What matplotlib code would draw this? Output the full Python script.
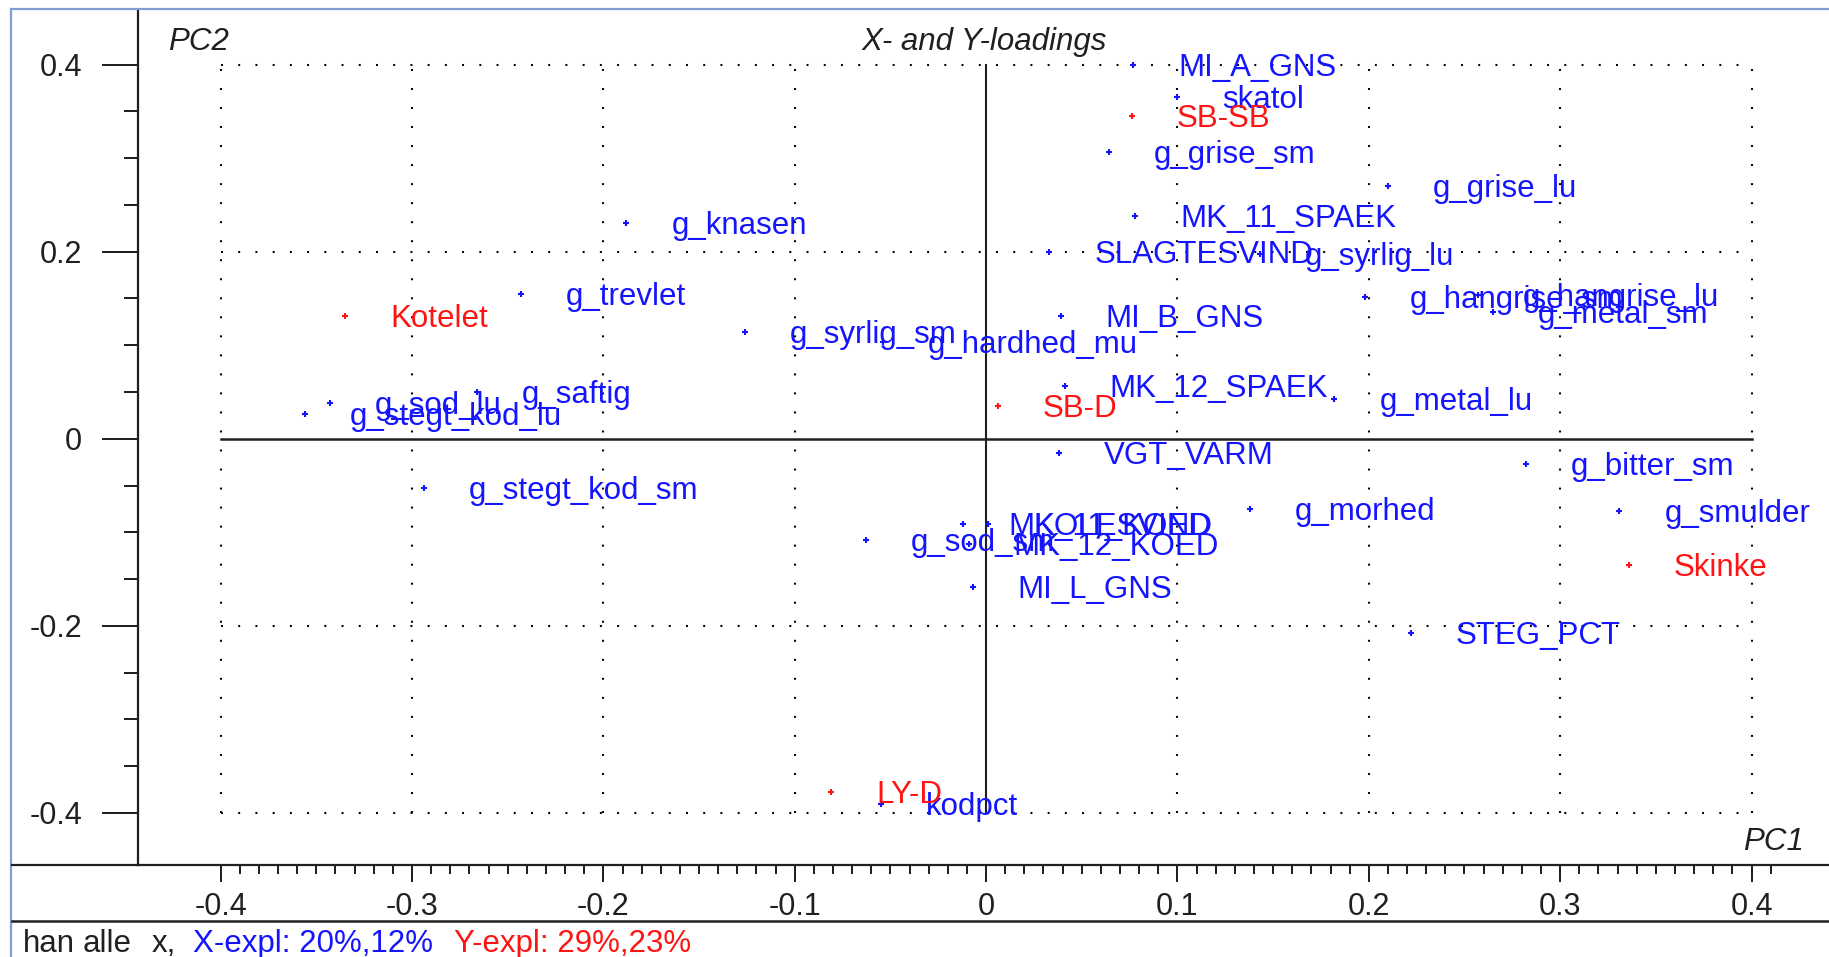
import numpy as np
import matplotlib
matplotlib.use("Agg")
import matplotlib.pyplot as plt
from matplotlib.lines import Line2D

plt.rcParams['font.family'] = ['Liberation Sans', 'DejaVu Sans']
plt.rcParams['axes.unicode_minus'] = False
plt.rcParams['lines.scale_dashes'] = False

# ---------------- data ----------------
x_names = ["MI_A_GNS", "skatol", "g_grise_sm", "g_grise_lu", "MK_11_SPAEK",
           "SLAGTESVIND", "g_syrlig_lu", "g_hangrise_sm", "g_hangrise_lu",
           "g_metal_sm", "MI_B_GNS", "g_hardhed_mu", "g_syrlig_sm", "g_knasen",
           "g_trevlet", "g_sod_lu", "g_stegt_kod_lu", "g_saftig",
           "g_stegt_kod_sm", "VGT_VARM", "MK_12_SPAEK", "g_metal_lu",
           "g_bitter_sm", "g_smulder", "g_morhed", "STEG_PCT", "MI_L_GNS",
           "g_sod_sm", "MK_11_KOED", "KOLESVIND", "MK_12_KOED", "kodpct"]
x_pc1 = [0.077, 0.100, 0.064, 0.210, 0.078,
         0.033, 0.143, 0.198, 0.257,
         0.265, 0.039, -0.054, -0.126, -0.188,
         -0.243, -0.343, -0.356, -0.266,
         -0.294, 0.038, 0.041, 0.182,
         0.282, 0.331, 0.138, 0.222, -0.007,
         -0.063, -0.012, 0.001, -0.009, -0.055]
x_pc2 = [0.400, 0.365, 0.307, 0.270, 0.238,
         0.200, 0.197, 0.151, 0.154,
         0.135, 0.131, 0.103, 0.114, 0.231,
         0.155, 0.038, 0.026, 0.050,
         -0.053, -0.015, 0.056, 0.042,
         -0.027, -0.077, -0.075, -0.208, -0.158,
         -0.108, -0.091, -0.091, -0.112, -0.390]

y_names = ["Kotelet", "SB-SB", "SB-D", "Skinke", "LY-D"]
y_pc1 = [-0.335, 0.076, 0.006, 0.336, -0.081]
y_pc2 = [0.131, 0.345, 0.035, -0.135, -0.378]

x_ticks = [-0.4, -0.3, -0.2, -0.1, 0.0, 0.1, 0.2, 0.3, 0.4]
y_ticks = [-0.4, -0.2, 0.0, 0.2, 0.4]
status_parts = ["han", "alle", "x,", "X-expl: 20%,12%", "Y-expl: 29%,23%"]

# ---------------- figure ----------------
W, H = 1829, 957
fig = plt.figure(figsize=(W / 100, H / 100), dpi=100)

def fx(px):
    return px / W

def fy(py):
    return 1 - py / H

ax_l, ax_r, ax_t, ax_b = 138, 1829, 10, 865
ax = fig.add_axes([fx(ax_l), fy(ax_b), fx(ax_r - ax_l), (ax_b - ax_t) / H])
ax.set_xlim(-0.4432, 0.4405)
ax.set_ylim(-0.4556, 0.4583)
ax.patch.set_alpha(0)

BLUE = "#1414ff"
RED = "#ff1414"
DARK = "#202020"

for s in ["top", "right"]:
    ax.spines[s].set_visible(False)
for s in ["left", "bottom"]:
    ax.spines[s].set_linewidth(1.6)
    ax.spines[s].set_color(DARK)

# grid (dotted)
for gx in x_ticks:
    if gx == 0:
        continue
    ax.plot([gx, gx], [-0.4, 0.4], color="black", lw=1.5,
            dashes=(1.4, 12.3), zorder=1)
for gy in y_ticks:
    if gy == 0:
        continue
    ax.plot([-0.4, 0.4], [gy, gy], color="black", lw=1.5,
            dashes=(1.4, 11.0), zorder=1)
# zero lines
ax.plot([-0.4, 0.4], [0, 0], color=DARK, lw=1.8, zorder=2)
ax.plot([0, 0], [-0.4, 0.4], color=DARK, lw=1.5, zorder=2)

# ticks
ax.set_xticks(x_ticks)
ax.set_xticklabels(["%g" % v for v in x_ticks])
ax.set_yticks(y_ticks)
ax.set_yticklabels(["%g" % v for v in y_ticks])
ax.set_xticks(np.round(np.arange(-0.40, 0.4101, 0.01), 3), minor=True)
ax.set_yticks(np.round(np.arange(-0.40, 0.401, 0.05), 3), minor=True)
ax.tick_params(axis="x", which="major", direction="out", length=12.2,
               width=1.44, pad=7, labelsize=22, colors=DARK)
ax.tick_params(axis="x", which="minor", direction="out", length=6.5,
               width=1.44, colors=DARK)
ax.tick_params(axis="y", which="major", direction="out", length=26,
               width=1.44, pad=14.4, labelsize=22, colors=DARK)
ax.tick_params(axis="y", which="minor", direction="out", length=10,
               width=1.44, colors=DARK)

# points
ax.plot(x_pc1, x_pc2, linestyle="none", marker="+", ms=5, mew=1.5,
        color=BLUE, zorder=3)
ax.plot(y_pc1, y_pc2, linestyle="none", marker="+", ms=5, mew=1.5,
        color=RED, zorder=3)

FS = 22.5
for n, a, b in zip(x_names, x_pc1, x_pc2):
    ax.annotate(n, (a, b), xytext=(45, -11), textcoords="offset pixels",
                ha="left", va="baseline", color=BLUE, fontsize=FS, zorder=4)
for n, a, b in zip(y_names, y_pc1, y_pc2):
    ax.annotate(n, (a, b), xytext=(45, -11), textcoords="offset pixels",
                ha="left", va="baseline", color=RED, fontsize=FS, zorder=4)

# titles
fig.text(fx(168), fy(50), "PC2", fontsize=FS, style="italic", color=DARK,
         ha="left", va="baseline")
fig.text(fx(984), fy(50), "X- and Y-loadings", fontsize=FS, style="italic",
         color=DARK, ha="center", va="baseline")
fig.text(fx(1804), fy(850), "PC1", fontsize=FS, style="italic", color=DARK,
         ha="right", va="baseline")

# frame lines
FRAME = "#7f9fd2"
fig.add_artist(Line2D([fx(11), fx(1829)], [fy(9), fy(9)], color=FRAME, lw=1.6))
fig.add_artist(Line2D([fx(11), fx(11)], [fy(9), fy(957)], color=FRAME, lw=1.6))
fig.add_artist(Line2D([fx(12), fx(ax_l)], [fy(865), fy(865)], color=DARK, lw=1.6))
fig.add_artist(Line2D([fx(12), fx(1829)], [fy(921), fy(921)], color=DARK, lw=1.8))

# status bar
status_x = [23, 82.6, 151.5, 192.8, 454.5]
status_c = [DARK, DARK, DARK, BLUE, RED]
for t, px, c in zip(status_parts, status_x, status_c):
    fig.text(fx(px), fy(952), t, fontsize=FS, color=c, ha="left", va="baseline")

fig.savefig("out.png", dpi=100)
